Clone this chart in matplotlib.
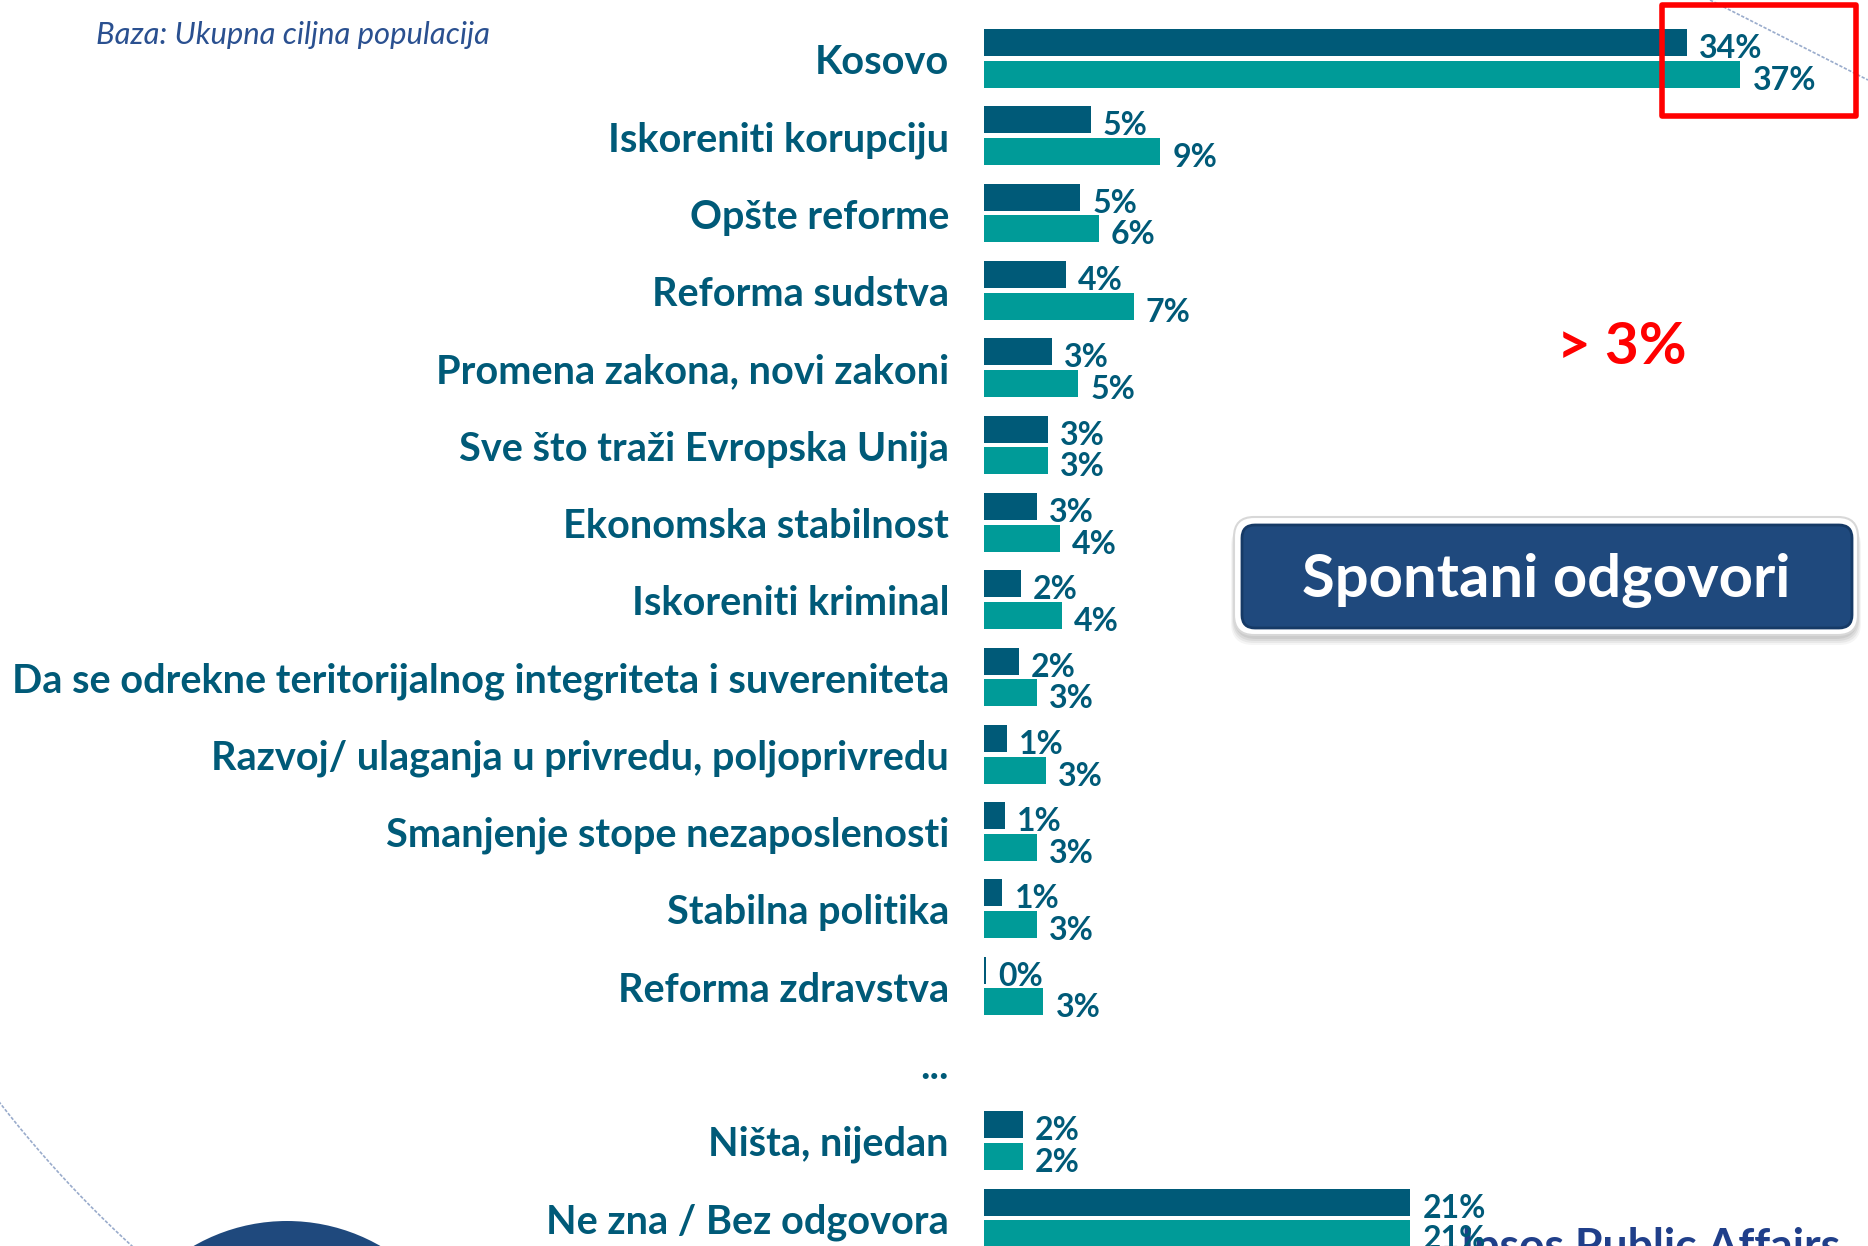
import numpy as np
import matplotlib
matplotlib.use("Agg")
import matplotlib.pyplot as plt
from matplotlib.patches import Rectangle, FancyBboxPatch, Circle


CATEGORIES = [
    "Kosovo",
    "Iskoreniti korupciju",
    "Opšte reforme",
    "Reforma sudstva",
    "Promena zakona, novi zakoni",
    "Sve što traži Evropska Unija",
    "Ekonomska stabilnost",
    "Iskoreniti kriminal",
    "Da se odrekne teritorijalnog integriteta i suvereniteta",
    "Razvoj/ ulaganja u privredu, poljoprivredu",
    "Smanjenje stope nezaposlenosti",
    "Stabilna politika",
    "Reforma zdravstva",
    "...",
    "Ništa, nijedan",
    "Ne zna / Bez odgovora",
]

# None marks the "..." spacer row
SERIES_DARK = [34.3, 5.2, 4.7, 4.0, 3.3, 3.1, 2.6, 1.8, 1.7, 1.1, 1.0, 0.9, 0.1,
               None, 1.9, 20.8]
SERIES_TEAL = [36.9, 8.6, 5.6, 7.3, 4.6, 3.1, 3.7, 3.8, 2.6, 3.0, 2.6, 2.6, 2.9,
               None, 1.9, 20.8]

DARK = "#005a78"
TEAL = "#009b98"
TEXT = "#005a78"
NAVY = "#1f497d"

W, H = 1868, 1246
PX_PER_PCT = 20.5
BAR_X0 = 984
ROW0 = 58.5
ROW_STEP = 77.3

FONT = "Lato"


def main():
    fig = plt.figure(figsize=(W / 100, H / 100), dpi=100)
    fig.patch.set_facecolor("white")

    # background decoration layer, pixel coordinates
    back = fig.add_axes([0, 0, 1, 1], zorder=0)
    back.set_xlim(0, W)
    back.set_ylim(H, 0)
    back.axis("off")

    ang = np.linspace(np.radians(128), np.radians(158), 200)
    back.plot(905 + 1146 * np.cos(ang), 400 + 1146 * np.sin(ang),
              color="#9aaccc", lw=1.2, ls=(0, (2, 1)))
    back.plot([1710, 1868], [0, 80], color="#9aaccc", lw=1.2, ls=(0, (2, 1)))

    back.add_patch(Circle((287, 1408), 187, color=NAVY, lw=0))

    back.text(1461, 1260, "Ipsos Public Affairs", fontsize=32,
              fontweight="bold", color="#203f8a", family=FONT,
              ha="left", va="baseline")

    back.text(96, 35, "Baza: Ukupna ciljna populacija", fontsize=22.3,
              style="italic", color="#2a5090", family=FONT,
              ha="left", va="center")

    back.text(1622, 348, "> 3%", fontsize=42, fontweight="bold",
              color="#ff0000", family=FONT, ha="center", va="center")

    # "Spontani odgovori" button
    for k, a in enumerate([0.06, 0.06, 0.05, 0.04]):
        back.add_patch(FancyBboxPatch(
            (1234 - k, 521 + k), 624 + 2 * k, 118 + k,
            boxstyle="round,pad=0,rounding_size=22",
            fc="#000000", ec="none", alpha=a))
    back.add_patch(FancyBboxPatch(
        (1234, 517), 624, 118, boxstyle="round,pad=0,rounding_size=20",
        fc="white", ec="#d8d8d8", lw=1.5))
    back.add_patch(FancyBboxPatch(
        (1242, 525), 610, 103, boxstyle="round,pad=0,rounding_size=13",
        fc=NAVY, ec="#163a66", lw=2))
    back.text(1546, 581, "Spontani odgovori", fontsize=43,
              fontweight="bold", color="white", family=FONT,
              ha="center", va="center")

    # chart layer
    ax = fig.add_axes([0, 0, 1, 1], zorder=1)
    ax.patch.set_alpha(0)
    ax.set_xlim(-BAR_X0 / PX_PER_PCT, (W - BAR_X0) / PX_PER_PCT)
    ax.set_ylim((H - ROW0) / ROW_STEP, -ROW0 / ROW_STEP)
    ax.axis("off")

    h = 0.35
    off = 0.205
    for i, (cat, d, t) in enumerate(zip(CATEGORIES, SERIES_DARK, SERIES_TEAL)):
        ax.annotate(cat, xy=(0, i), xytext=(-35, -4),
                    textcoords="offset pixels", ha="right", va="center",
                    fontsize=28.5, fontweight="bold", color=TEXT, family=FONT)
        if d is None:
            continue
        ax.barh(i - off, max(d, 0.1), height=h, color=DARK, lw=0)
        ax.barh(i + off, t, height=h, color=TEAL, lw=0)
        for v, y in ((d, i - off), (t, i + off)):
            ax.annotate(f"{v:.0f}%", xy=(v, y), xytext=(12, -6),
                        textcoords="offset pixels", ha="left", va="center",
                        fontsize=23, fontweight="bold", color=TEXT,
                        family=FONT)

    # highlight frame, front layer
    front = fig.add_axes([0, 0, 1, 1], zorder=2)
    front.patch.set_alpha(0)
    front.set_xlim(0, W)
    front.set_ylim(H, 0)
    front.axis("off")
    front.add_patch(Rectangle((1662, 5), 194, 111, fill=False,
                              ec="#ff0000", lw=4, joinstyle="round"))

    fig.savefig("out.png", dpi=100)
    plt.close(fig)


if __name__ == "__main__":
    main()
